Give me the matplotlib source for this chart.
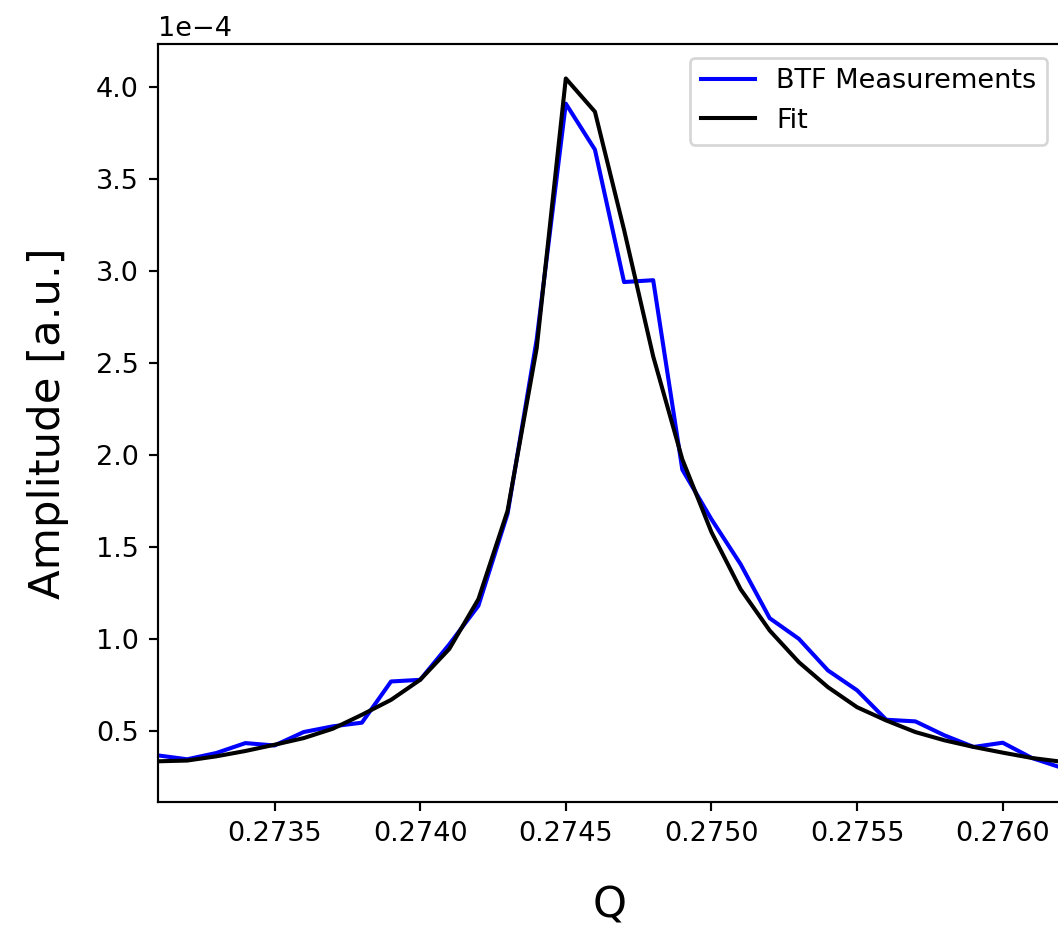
import matplotlib
matplotlib.use("Agg")
import matplotlib.pyplot as plt
import numpy as np

# tune Q scan, one point every 1e-4
q = np.round(np.arange(0.2731, 0.27625, 0.0001), 4)

btf = [0.366, 0.345, 0.379, 0.433, 0.420, 0.493, 0.524, 0.544,
       0.768, 0.777, 0.970, 1.180, 1.680, 2.627, 3.910, 3.660,
       2.940, 2.950, 1.920, 1.650, 1.406, 1.112, 1.000, 0.828,
       0.720, 0.560, 0.551, 0.475, 0.412, 0.435, 0.352, 0.300]

fit = [0.334, 0.338, 0.361, 0.390, 0.424, 0.460, 0.511, 0.587,
       0.668, 0.777, 0.945, 1.216, 1.696, 2.580, 4.047, 3.866,
       3.224, 2.536, 1.976, 1.580, 1.270, 1.045, 0.873, 0.737,
       0.628, 0.556, 0.493, 0.448, 0.412, 0.381, 0.352, 0.332]

btf = np.array(btf) * 1e-4
fit = np.array(fit) * 1e-4

dpi = 195
fig = plt.figure(figsize=(1058 / dpi, 929 / dpi), dpi=dpi)
ax = fig.add_axes([158 / 1058, 1 - 802 / 929, (1061 - 158) / 1058, (802 - 44) / 929])

ax.plot(q, btf, color="blue", lw=1.5, label="BTF Measurements")
ax.plot(q, fit, color="black", lw=1.5, label="Fit")

ax.set_xlim(0.2731, 0.2762)
ax.set_xticks([0.2735, 0.2740, 0.2745, 0.2750, 0.2755, 0.2760])
ax.ticklabel_format(axis="y", style="sci", scilimits=(0, 0))
ax.set_xlabel("Q", fontsize=16, labelpad=14)
ax.set_ylabel("Amplitude [a.u.]", fontsize=16, labelpad=10)
ax.legend(loc="upper right")

fig.savefig("out.png", dpi=dpi)
